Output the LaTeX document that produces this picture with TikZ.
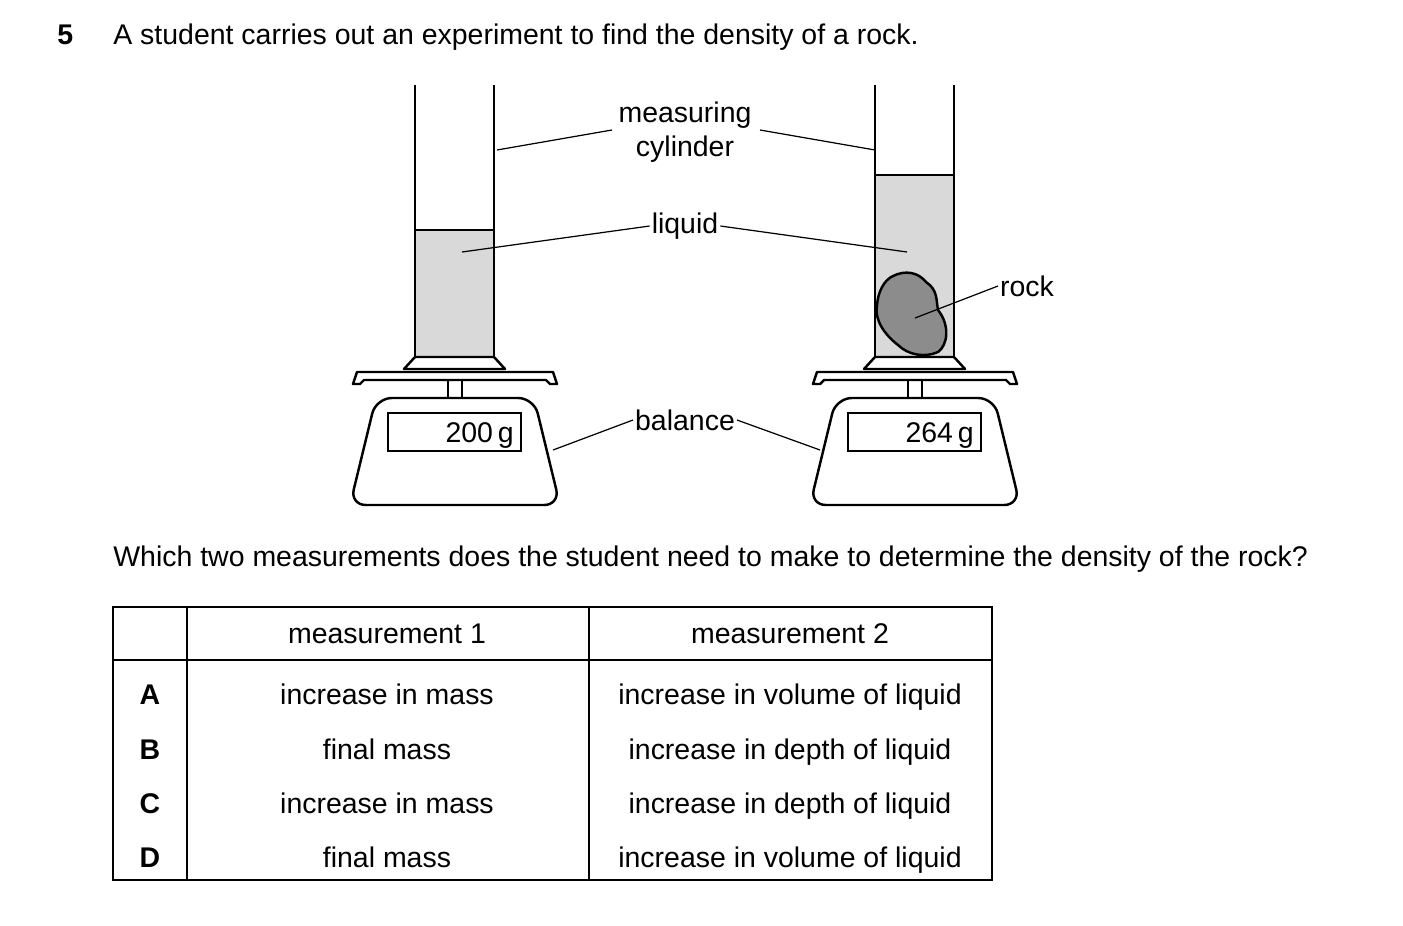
\documentclass[tikz,border=0pt]{standalone}
\usepackage{fontspec}
\setmainfont{Liberation Sans}
\begin{document}
\begin{tikzpicture}[x=0.02cm,y=-0.02cm,font=\fontsize{16.2pt}{19pt}\selectfont,
  outline/.style={draw,line width=1.4pt,line join=round},
  leader/.style={draw,line width=0.7pt},
  lbl/.style={inner sep=1pt,align=center},
  cell/.style={anchor=base},
  liq/.style={fill=black!15}]
\useasboundingbox (0,0) rectangle (1403,926);

\node[anchor=base west,inner sep=0pt,font=\fontsize{16.2pt}{19pt}\selectfont\bfseries] (qn) at (57,45) {5};
\node[anchor=base west,inner sep=0pt] (qtext) at (113,45) {A student carries out an experiment to find the density of a rock.};

% cylinder on balance, drawn twice
\foreach \dx/\ltop/\reading/\nm in {0/230/200/L,460/175/264/R}{
\begin{scope}[xshift=\dx*0.02cm]
  \fill[liq] (415,\ltop) rectangle (494,356);
  \draw[line width=0.8pt] (415,\ltop) -- (494,\ltop);
  \draw[outline] (415,85) -- (415,357) (494,85) -- (494,357);
  \draw[outline] (415,357) -- (494,357) -- (505,369) -- (404,369) -- cycle;
  \draw[outline] (357,372) -- (553,372) -- (557,384) -- (550,384) -- (546,380)
    -- (364,380) -- (360,384) -- (353,384) -- cycle;
  \draw[outline] (448,380) -- (448,398) (462,380) -- (462,398);
  \draw[outline,rounded corners=9pt] (376,398) -- (534,398) -- (560,505) -- (350,505) -- cycle;
  \draw[line width=0.8pt] (388,413) rectangle (521,451);
  \node[anchor=base east,inner sep=0pt] (disp\nm) at (514,442) {\reading\,g};
\end{scope}
}

% rock
\draw[outline,fill=black!45] (893,276) .. controls (905,270) and (918,272) .. (926,282)
  .. controls (938,290) and (936,300) .. (938,310) .. controls (950,325) and (948,345) .. (938,352)
  .. controls (925,358) and (908,355) .. (898,345) .. controls (885,335) and (874,320) .. (877,305)
  .. controls (878,292) and (884,280) .. (893,276) -- cycle;

% labels
\node[lbl] (cyl) at (685,132) {measuring\\cylinder};
\node[lbl] (liquid) at (685,226) {liquid};
\node[lbl] (rock) at (1027,286) {rock};
\node[lbl] (balance) at (685,420) {balance};
\coordinate (cylL) at (497,150);
\coordinate (cylR) at (875,150);
\coordinate (liqL) at (462,252);
\coordinate (liqR) at (907,252);
\coordinate (rockpt) at (915,318);
\coordinate (balL) at (553,450);
\coordinate (balR) at (820,450);
\draw[leader] (cylL) -- (612,130) (760,130) -- (cylR);
\draw[leader] (liqL) -- (liquid.west) (liquid.east) -- (liqR);
\draw[leader] (rockpt) -- (rock.west);
\draw[leader] (balL) -- (balance.west) (balance.east) -- (balR);

\node[anchor=base west,inner sep=0pt] (ask) at (113,566) {Which two measurements does the student need to make to determine the density of the rock?};

% table
\draw[line width=0.8pt] (113,607) rectangle (992,880);
\draw[line width=0.8pt] (187,607) -- (187,880) (589,607) -- (589,880) (113,660) -- (992,660);
\node[cell] (h1) at (387,643) {measurement 1};
\node[cell] (h2) at (790,643) {measurement 2};
\foreach \y/\key/\ma/\mb in {704/A/increase in mass/increase in volume of liquid,
  759/B/final mass/increase in depth of liquid,
  813/C/increase in mass/increase in depth of liquid,
  867/D/final mass/increase in volume of liquid}{
  \node[cell,font=\fontsize{16.2pt}{19pt}\selectfont\bfseries] (k\key) at (150,\y) {\key};
  \node[cell] (a\key) at (387,\y) {\ma};
  \node[cell] (b\key) at (790,\y) {\mb};
}
\end{tikzpicture}
\end{document}
